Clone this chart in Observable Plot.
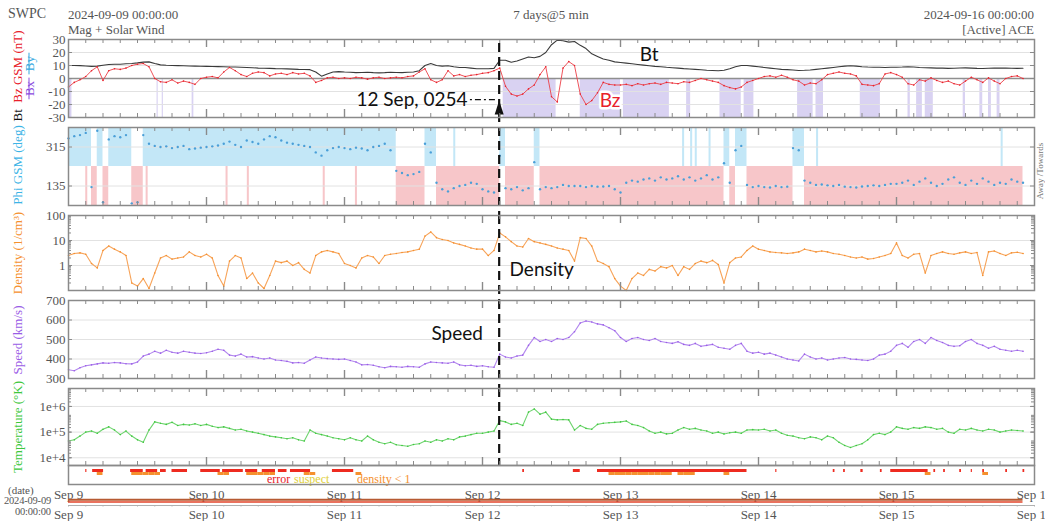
<!DOCTYPE html>
<html>
<head>
<meta charset="utf-8">
<script src="https://cdn.jsdelivr.net/npm/d3@7"></script>
<script src="https://cdn.jsdelivr.net/npm/@observablehq/plot@0.6"></script>
<style>
  body { margin: 0; background: #fff; }
  #chart { position: relative; width: 1045px; height: 521px; overflow: hidden;
           font-family: "Liberation Serif", serif; color: #555; background: #fff; }
  .t { position: absolute; white-space: nowrap; line-height: 1; }
  .v { position: absolute; white-space: nowrap; line-height: 1; font-size: 13px;
       transform: translate(-50%, -50%) rotate(-90deg); }
</style>
</head>
<body>
<div id="chart">
  <div class="t" style="left:8px;top:7px;font-size:14px;">SWPC</div>
  <div class="t" style="left:68px;top:8px;font-size:13px;">2024-09-09 00:00:00</div>
  <div class="t" style="left:68px;top:23px;font-size:13px;">Mag + Solar Wind</div>
  <div class="t" style="left:551px;top:8px;font-size:13px;transform:translateX(-50%);">7 days@5 min</div>
  <div class="t" style="right:11px;top:8px;font-size:13px;">2024-09-16 00:00:00</div>
  <div class="t" style="right:11px;top:23px;font-size:13px;">[Active] ACE</div>

  <div class="v" style="left:17px;top:76px;"><span style="color:#111">Bt</span>&nbsp;&nbsp;<span style="color:#e8202a">Bz GSM (nT)</span></div>
  <div class="v" style="left:29px;top:76px;"><span style="color:#8a4be0;text-decoration:line-through">&nbsp;Bx&nbsp;</span>&nbsp;<span style="color:#35a8e0;text-decoration:line-through">&nbsp;By&nbsp;</span></div>
  <div class="v" style="left:17px;top:165px;color:#3cb4e6;">Phi GSM (deg)</div>
  <div class="v" style="left:17px;top:253px;color:#f5902e;">Density (1/cm³)</div>
  <div class="v" style="left:17px;top:340px;color:#9a5ce6;">Speed (km/s)</div>
  <div class="v" style="left:17px;top:427px;color:#3dc83d;">Temperature (°K)</div>
  <div class="v" style="left:1040px;top:171px;font-size:9px;color:#777;">Away /Towards</div>

  <div class="t" style="left:267px;top:473px;font-size:12px;color:#e8202a;">error</div>
  <div class="t" style="left:294px;top:473px;font-size:12px;color:#e0cf3a;">suspect</div>
  <div class="t" style="left:357px;top:473px;font-size:12px;color:#f5902e;">density &lt; 1</div>

  <div class="t" style="left:8px;top:485px;font-size:11px;">(date)</div>
  <div class="t" style="left:4px;top:496px;font-size:10.5px;letter-spacing:-0.2px;">2024-09-09</div>
  <div class="t" style="left:15px;top:507px;font-size:10.5px;letter-spacing:-0.2px;">00:00:00</div>
</div>
<script>
// Hourly ACE readings, 2024-09-09 00:00 UTC onward (hour 0 .. 166)
const btValues = [
  10,10,9.9,9.6,9.3,9.5,10.2,10.8,11,11,11.3,11.5,12,12.6,12.8,11.5,10.5,10.2,10,9.9,9.8,9.6,9.5,9.4,
  9.3,9.2,9.1,9.0,8.9,8.9,8.7,8.5,8.3,8.0,7.9,7.8,7.6,7.5,7.4,7.2,7.0,6.9,6.8,5.0,1.8,3.5,5.0,5.3,
  5,4.8,4.5,4.6,4.8,4.5,4.3,4.5,4.8,4.6,4.5,4.8,5,6,10,11.5,10,9.5,9.8,9,8.5,8.5,8,7.5,
  7.5,7.5,7.8,14,14,12.5,13.5,15,16.5,16,17,20,26,29.5,29,28,28.5,25.5,23,19,17,15,14,12.8,
  12.3,11.8,11.3,10.8,10.3,9.8,9.3,9,8.6,8.3,8,7.6,7.3,7,6.7,6.4,6.2,6,6.3,7.5,9,10,10,9.5,
  9,8.5,8,7.5,7,6.8,6.5,6.2,6.3,6.5,7,7.5,8,8.5,9,9.5,9.8,9.5,9,8.8,8.7,8.7,8.5,8.6,
  8.7,8.8,9,8.8,8.5,8.3,8.2,8,8,7.8,7.9,8.1,8.2,8,7.8,7.7,7.9,8,8.1,8,7.9,7.8,7.9
];
const bzValues = [
  -6.5,-3,-1,1.5,6,9,-1.5,6,7.5,7,8,10,11,11.5,9,0,-2.5,-3,-1,-3.5,-2,-3,-4.5,0,
  1,1.5,0.5,5,8.5,6,3,1.5,4,5,4.5,2,3.5,4,3,4.5,3.5,4,2,-3,-1.5,0.5,1,0,
  0.5,0,1,0.5,-0.5,0.5,1,0,0.5,1,0.5,1.5,2,5,7.5,-1,-3,-1,6,2,3,1.5,2.5,3,
  4,4.5,6,8,-6,-12,-13.5,-12,-8,-5,3,9,-14,-18,8,13,10,-12,-20,-17,-11,-3,-4.5,-5,
  -5,-4.5,-5.5,-4,-5,-4,-3.5,-4.5,-3,-3.5,-4,-2.5,-3,-1.5,0,-1,-2,-3,-5.5,-7,-8,-6.5,-3,-1.5,
  0,1.5,2,1,2.5,1,-1,-2,-5,-3.5,-4,-1,3,4,5,4,3.5,2,-4.5,-5,-5.5,-4,3.5,4.5,
  3,1,-4,-5,-1,-2,0.5,-1.5,-3,-2,-4,-5,-2,1,-1,-3,0.5,-2,-4,0,1.5,2,0
];
const phiValues = [
  355,365,370,380,130,390,60,350,365,360,370,55,60,370,330,320,315,318,310,315,320,305,308,312,
  315,318,322,330,340,325,315,345,338,330,350,365,360,345,335,330,325,320,315,290,275,300,310,315,
  310,305,312,308,300,315,320,330,300,205,195,185,190,200,330,290,150,120,110,125,135,140,150,145,
  120,110,105,275,125,120,130,115,125,245,120,130,125,130,140,135,135,135,130,135,132,133,135,120,
  105,150,160,155,165,170,160,175,165,170,180,165,175,160,170,185,165,175,240,150,300,320,140,130,
  135,130,128,135,130,132,310,300,160,150,140,142,138,135,140,132,130,128,133,135,138,135,140,145,
  145,150,160,140,155,170,150,135,145,165,175,150,140,160,145,170,155,140,150,145,165,155,150
];
const densityValues = [
  2.5,3,3.2,2.8,1.2,0.8,4,6,4.5,3.5,2.5,0.2,0.15,0.3,0.12,0.5,2,2.5,1.8,2,2.2,3.5,2.5,2.2,
  2.8,2,0.4,0.15,1.5,2.5,2,0.3,0.5,0.2,0.12,0.4,1.5,1.3,1.5,1,1.3,0.7,0.5,2.5,3.5,4,3.5,3,
  1.2,1,0.8,2,2.5,2.2,1.2,2.5,2.8,3,3.3,3.5,4,4.5,15,22,13,11,10,8,7,6,5,4.5,
  4.5,2.5,4,20,14,9,6,5.5,12,9,8,7,6,5,4.5,4,1.5,13,12,6,1.5,1.2,0.9,0.3,
  0.15,0.1,0.3,0.5,0.4,0.7,0.6,0.9,0.8,1,0.4,0.9,0.7,1.2,1.5,1.3,1.6,1.1,0.2,1.3,2,2.2,4,6,
  4.5,4,3.5,3.3,3.2,3,3.2,3.5,4.5,4,3.5,3.8,3.5,3,2.8,2.5,2.2,2,2.2,1.8,1.9,2.2,2.5,3,
  8,2.5,2,2.8,3,0.5,2.5,3,3.5,3,2.8,3.2,3.5,3,3.3,0.4,3.5,3.8,3,2.5,3.2,3.4,3
];
const speedValues = [
  345,340,355,365,370,375,380,378,382,380,376,375,385,415,425,440,430,445,435,430,440,435,430,428,
  432,440,450,445,420,415,425,410,412,405,400,405,395,392,388,380,382,378,395,410,405,402,400,398,
  400,392,385,370,372,368,360,355,362,360,358,362,360,358,375,385,382,380,378,385,370,365,368,362,
  365,360,358,425,410,405,415,420,470,510,490,500,490,505,500,510,540,585,595,590,580,575,560,545,
  510,490,505,510,500,495,505,490,485,480,488,475,470,480,465,470,475,460,455,450,470,480,440,430,
  435,425,430,420,410,400,395,390,425,410,400,405,395,400,405,408,400,398,395,392,400,420,425,440,
  470,480,460,490,500,480,510,495,485,470,465,468,490,500,480,470,455,465,450,445,440,445,440
];
const tempValues = [
  4.5e4,5e4,7e4,1e5,1.1e5,9e4,1.3e5,1.6e5,1.2e5,8e4,1.1e5,7e4,5e4,4e4,1.2e5,2.5e5,2.2e5,2e5,2.4e5,1.8e5,2e5,1.9e5,2.1e5,1.8e5,
  2e5,1.7e5,1.5e5,1.6e5,1.4e5,1.2e5,1.3e5,1.1e5,1e5,9e4,8e4,7e4,6.5e4,6e4,5.5e4,6e4,5e4,4.5e4,1.2e5,9e4,8e4,7e4,6e4,5.5e4,
  5e4,6e4,5e4,4.5e4,7e4,5e4,4e4,3.5e4,4e4,3.2e4,3e4,2.8e4,3.3e4,3.5e4,4.5e4,4e4,5e4,4.5e4,5.5e4,5e4,6.5e4,7e4,8e4,9e4,
  9e4,1e5,1.1e5,2.8e5,2.5e5,2e5,2.2e5,1.8e5,6e5,8e5,5e5,6e5,3.2e5,3e5,3.1e5,3e5,1.2e5,1.8e5,1.4e5,1.3e5,2e5,2.2e5,2.3e5,2.4e5,
  2.5e5,2.7e5,2e5,1.8e5,1.5e5,1.1e5,9e4,1e5,8.5e4,9e4,1.2e5,1.5e5,1.3e5,1.4e5,1.2e5,1.1e5,9e4,1e5,8.5e4,9.5e4,1e5,9e4,1.2e5,1.25e5,
  1.2e5,1.3e5,1.1e5,1.2e5,9e4,7.5e4,7e4,6e4,5.5e4,6.5e4,6e4,5e4,7e4,6e4,4e4,3e4,2.5e4,3e4,3.5e4,5e4,8e4,9e4,8e4,1e5,
  1.6e5,1.4e5,1.3e5,1.5e5,1.4e5,1.6e5,1.5e5,1.3e5,1.4e5,1e5,9e4,1.3e5,1.2e5,1.4e5,1.2e5,1.1e5,1.3e5,1.2e5,1e5,1.1e5,1.2e5,1.15e5,1.1e5
];
// Southward-Bz shading intervals [start hour, end hour]
const bzShade = [
  [0,0.6],[15.4,15.6],[16.3,16.5],[21.5,21.8],[75.6,84.8],[89,96],[96.5,104.5],[107.5,108.2],
  [113.3,117],[117.5,119.2],[126.8,129.5],[130,131.3],[137.7,141.2],[146,146.4],[147.5,148.5],
  [149,150.4],[155.6,156],[158.5,159],[160,160.5],[161.5,162]
];
// Brief sector crossings [hour, sector]
const phiStripes = [
  [3.0,"T"],[13.5,"T"],[27.4,"T"],[31.1,"T"],[44.3,"T"],[49.9,"T"],
  [67,"A"],[106.8,"A"],[108.2,"A"],[109,"A"],[111.4,"A"],[130.1,"A"],[162.2,"A"]
];
// Data-quality "error" flag intervals [start hour, end hour]
const errorFlags = [
  [3,3.2],[4.2,6.1],[10.8,13],[13.5,15.5],[16,17],[18,20.7],[23,26.4],[26.8,30.4],[30.8,32.9],
  [33.7,36],[36.5,38],[38.6,42.1],[45.9,49.6],[79,79.3],[87.8,89],[92,118],[123,123.2],
  [133,133.3],[134.8,135.1],[137.8,138.2],[141.2,141.5],[143,149.5],[150.5,150.8],[152.2,152.5],
  [155,155.3],[157,157.2],[159,159.3],[163,163.3],[166,166.3]
];
const bzTicks = [30, 20, 10, 0, -10, -20, -30];
const phiTicks = [135, 315];
const densityTicks = [1, 10, 100];
const speedTicks = [300, 400, 500, 600, 700];
const tempTicks = [1e4, 1e5, 1e6];

const W = 1045, ML = 68, MR = 11, PW = W - ML - MR;
const t0 = Date.UTC(2024, 8, 9);
const T = h => new Date(t0 + h * 3600e3);
const xDomain = [T(0), T(168)];
const lastHour = btValues.length - 1;
const eventHour = 72 + 2 + 54 / 60; // 12 Sep 02:54 UTC

const rows = btValues.map((bt, h) => ({
  h, t: T(h), bt, bz: bzValues[h], phi: phiValues[h],
  density: densityValues[h], speed: speedValues[h], temp: tempValues[h]
}));

// Contiguous runs of the same field sector (away: phi >= 225, towards: phi < 225)
const sectorRuns = [];
for (const d of rows) {
  const s = d.phi >= 225 ? "A" : "T";
  const end = Math.min(d.h + 1, lastHour);
  const last = sectorRuns[sectorRuns.length - 1];
  if (last && last.s === s) last.end = end;
  else sectorRuns.push({s, start: d.h, end});
}

const chart = document.getElementById("chart");
const FRAME = "#8a8a8a", GRID = "#e2e2e2";
const AWAY = "#c3e7f7", TOWARD = "#f7c6c9";
const ANNOT = {fontFamily: "Lato, sans-serif", fontSize: 19, fill: "#111"};

function timeTicks(h) {
  const minor = d3.range(3, 168, 3).filter(k => k % 24).map(T);
  const major = d3.range(24, 168, 24).map(T);
  const s = {stroke: FRAME, strokeWidth: 1};
  return [
    Plot.ruleX(minor, {...s, insetBottom: h - 4}),
    Plot.ruleX(major, {...s, strokeWidth: 1.4, insetBottom: h - 8}),
    Plot.ruleX(minor, {...s, insetTop: h - 4}),
    Plot.ruleX(major, {...s, strokeWidth: 1.4, insetTop: h - 8})
  ];
}
function sideTicks(values, len = 4) {
  return [
    Plot.ruleY(values, {stroke: FRAME, insetRight: PW - len}),
    Plot.ruleY(values, {stroke: FRAME, insetLeft: PW - len})
  ];
}
function logMinor(lo, hi) {
  const out = [];
  for (let d = lo; d < hi; d *= 10) for (let k = 2; k < 10; k++) if (d * k < hi) out.push(d * k);
  return out;
}
function yAxis(ticks, fmt) {
  return Plot.axisY(ticks, {tickSize: 0, tickPadding: 3, tickFormat: fmt, fontSize: 13, label: null});
}
function eventRule(extra, opts = {}) {
  return Plot.ruleX([T(eventHour)], {stroke: "#111", strokeWidth: 2.2, strokeDasharray: "9,5", insetBottom: -extra, ...opts});
}
function panel(top, h, y, marks, {mt = 8, mb = 8, x = {}} = {}) {
  const svg = Plot.plot({
    width: W, height: h + mt + mb,
    marginLeft: ML, marginRight: MR, marginTop: mt, marginBottom: mb,
    x: {type: "utc", domain: xDomain, axis: null, label: null, ...x},
    y: {label: null, ...y},
    style: {fontFamily: '"Liberation Serif", serif', fontSize: "13px", color: "#555",
            background: "transparent", overflow: "visible"},
    marks
  });
  svg.style.position = "absolute";
  svg.style.left = "0px";
  svg.style.top = (top - mt) + "px";
  chart.appendChild(svg);
}

// Magnetic field: Bt and Bz GSM
panel(39, 78, {domain: [-30, 30]}, [
  Plot.rect(bzShade, {x1: d => T(d[0]), x2: d => T(d[1]), y1: 0, y2: -30, fill: "#d9d2f2"}),
  Plot.ruleY([20, 10, -10, -20], {stroke: GRID}),
  Plot.ruleY([0], {stroke: "#8f8f8f", strokeWidth: 1.6}),
  Plot.line(rows, {x: "t", y: "bt", stroke: "#3a3a3a", strokeWidth: 1.1}),
  Plot.line(rows, {x: "t", y: "bz", stroke: "#ec4048", strokeWidth: 1, strokeOpacity: 0.9}),
  Plot.dot(rows, {x: "t", y: "bz", r: 0.8, fill: "#e8202a"}),
  eventRule(10, {y1: 27, y2: -30}),
  Plot.dot([eventHour], {x: d => T(d), y: -23, fill: "#111",
    symbol: {draw(ctx) { ctx.moveTo(0, -8); ctx.lineTo(4.5, 6); ctx.lineTo(-4.5, 6); ctx.closePath(); }}}),
  Plot.ruleY([-16.2], {x1: T(eventHour - 5), x2: T(eventHour - 0.6), stroke: "#111", strokeWidth: 1.2, strokeDasharray: "2,3,6,3"}),
  Plot.text(["12 Sep, 0254"], {x: T(eventHour - 5.5), y: -16.5, textAnchor: "end", ...ANNOT}),
  Plot.text(["Bt"], {x: T(101), y: 18.5, ...ANNOT}),
  Plot.text(["Bz"], {x: T(94.2), y: -17, ...ANNOT, fill: "#e8202a", stroke: "white", strokeWidth: 5}),
  ...timeTicks(78),
  ...sideTicks(bzTicks),
  yAxis(bzTicks, d => String(d)),
  Plot.frame({stroke: FRAME, strokeWidth: 1.5})
]);

// Interplanetary field direction: Phi GSM with away/towards sectors
panel(127, 78, {domain: [45, 405]}, [
  Plot.rect(sectorRuns.filter(d => d.s === "A"), {x1: d => T(d.start), x2: d => T(d.end), y1: 225, y2: 405, fill: AWAY}),
  Plot.rect(sectorRuns.filter(d => d.s === "T"), {x1: d => T(d.start), x2: d => T(d.end), y1: 45, y2: 225, fill: TOWARD}),
  Plot.rect(phiStripes.filter(d => d[1] === "A"), {x1: d => T(d[0]), x2: d => T(d[0] + 0.35), y1: 225, y2: 405, fill: AWAY}),
  Plot.rect(phiStripes.filter(d => d[1] === "T"), {x1: d => T(d[0]), x2: d => T(d[0] + 0.35), y1: 45, y2: 225, fill: TOWARD}),
  Plot.ruleY(phiTicks, {stroke: GRID}),
  Plot.dot(rows, {x: "t", y: "phi", r: 1.2, fill: "#4a9fd8"}),
  eventRule(11),
  ...timeTicks(78),
  ...sideTicks(phiTicks),
  yAxis(phiTicks, d => String(d)),
  Plot.frame({stroke: FRAME, strokeWidth: 1.5})
]);

// Proton density
panel(215, 75, {type: "log", domain: [0.1, 100]}, [
  Plot.ruleY([1, 10], {stroke: GRID}),
  Plot.line(rows, {x: "t", y: "density", stroke: "#f7a45a", strokeWidth: 1.1}),
  Plot.dot(rows, {x: "t", y: "density", r: 0.8, fill: "#f5902e"}),
  Plot.text(["Density"], {x: T(82.3), y: 0.67, ...ANNOT}),
  eventRule(10),
  ...timeTicks(75),
  ...sideTicks(densityTicks),
  ...sideTicks(logMinor(0.1, 100), 3),
  yAxis(densityTicks, d => String(d)),
  Plot.frame({stroke: FRAME, strokeWidth: 1.5})
]);

// Bulk speed
panel(300, 78, {domain: [300, 700]}, [
  Plot.ruleY([400, 500, 600], {stroke: GRID}),
  Plot.line(rows, {x: "t", y: "speed", stroke: "#b287ee", strokeWidth: 1.1}),
  Plot.dot(rows, {x: "t", y: "speed", r: 0.8, fill: "#9a5ce6"}),
  Plot.text(["Speed"], {x: T(67.6), y: 528, ...ANNOT}),
  eventRule(10),
  ...timeTicks(78),
  ...sideTicks(speedTicks),
  yAxis(speedTicks, d => String(d)),
  Plot.frame({stroke: FRAME, strokeWidth: 1.5})
]);

// Ion temperature
panel(388, 77, {type: "log", domain: [5e3, 5e6]}, [
  Plot.ruleY(tempTicks, {stroke: GRID}),
  Plot.line(rows, {x: "t", y: "temp", stroke: "#6fd46f", strokeWidth: 1.1}),
  Plot.dot(rows, {x: "t", y: "temp", r: 0.8, fill: "#3dc83d"}),
  eventRule(0),
  ...timeTicks(77),
  ...sideTicks(tempTicks),
  ...sideTicks(logMinor(5e3, 5e6), 3),
  yAxis(tempTicks, d3.format(".0e")),
  Plot.frame({stroke: FRAME, strokeWidth: 1.5})
]);

// Data-quality flags and the day axis
panel(465, 19, {type: "band", domain: ["error", "density < 1"], range: [4, 10], padding: 0, axis: null}, [
  Plot.barX(errorFlags, {x1: d => T(d[0]), x2: d => T(d[1]), y: () => "error", fill: "#ee2b20"}),
  Plot.barX(rows.filter(d => d.density < 1), {x1: "t", x2: d => T(d.h + 1), y: () => "density < 1", fill: "#f5902e"}),
  Plot.axisX(d3.range(0, 169, 24).map(T), {tickSize: 0, tickPadding: 5, tickFormat: d3.utcFormat("%b %-d"), fontSize: 13, label: null}),
  Plot.frame({stroke: FRAME, strokeWidth: 1.5})
], {mt: 0, mb: 30, x: {axis: undefined}});

// Timeline bar with repeated day axis
panel(497, 9, {domain: [0, 9], axis: null}, [
  Plot.ruleY([6.8], {x1: T(0), x2: T(lastHour), stroke: "#b65a32", strokeWidth: 2}),
  Plot.ruleY([4.6], {x1: T(0), x2: T(lastHour), stroke: "#e2452a", strokeWidth: 1.5}),
  Plot.ruleY([1], {stroke: "#b0b0b0"}),
  Plot.ruleX(d3.range(0, 169, 3).map(T), {y1: 1, y2: -0.5, stroke: "#b0b0b0"}),
  Plot.axisX(d3.range(0, 169, 24).map(T), {tickSize: 0, tickPadding: 3, tickFormat: d3.utcFormat("%b %-d"), fontSize: 13, label: null})
], {mt: 0, mb: 24, x: {axis: undefined}});
</script>
</body>
</html>
